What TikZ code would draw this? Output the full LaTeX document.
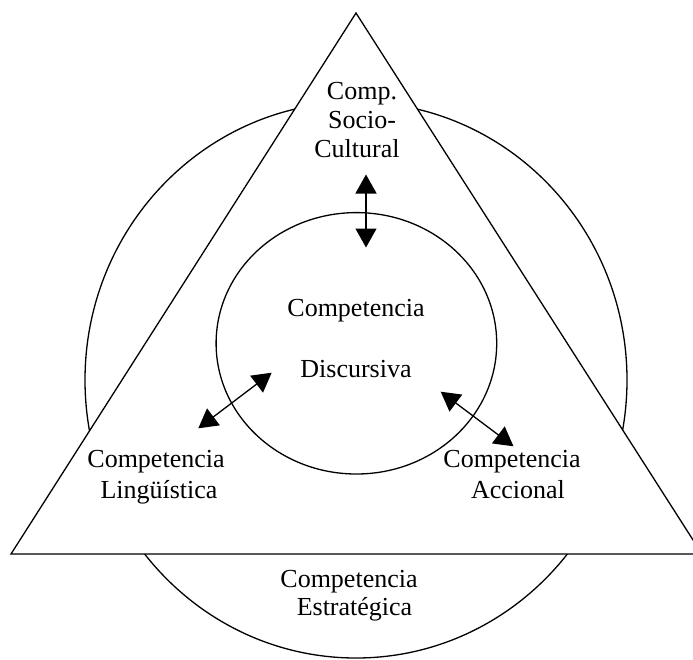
\documentclass[tikz,border=0pt]{standalone}
\usepackage{fontspec}
\setmainfont{Liberation Serif}
\usetikzlibrary{arrows.meta}
\begin{document}
\begin{tikzpicture}[x=1pt,y=-1pt,
  outline/.style={draw=black,line width=1.3pt},
  label/.style={anchor=base,inner sep=0pt,font=\fontsize{26}{30}\selectfont},
  link/.style={line width=1.3pt,{Triangle[length=19pt,width=21pt]}-{Triangle[length=19pt,width=21pt]}}]
  \useasboundingbox (0,0) rectangle (693,659);

  % outer ellipse (strategic competence)
  \draw[outline] (356,380) ellipse [x radius=271, y radius=278];
  % triangle, filled white so it hides the ellipse behind it
  \draw[outline,fill=white,line join=miter] (356,13) -- (702,554) -- (11,554) -- cycle;
  % inner ellipse (discourse competence)
  \draw[outline] (356.4,343.3) ellipse [x radius=140.3, y radius=130.7];

  % labels
  \node[label] (soc1) at (362,99) {Comp.};
  \node[label] (soc2) at (362,128) {Socio-};
  \node[label] (soc3) at (357,157) {Cultural};
  \node[label] (disc1) at (356,316.7) {Competencia};
  \node[label] (disc2) at (356,377.7) {Discursiva};
  \node[label] (ling1) at (156,467.5) {Competencia};
  \node[label] (ling2) at (159,498) {Lingüística};
  \node[label] (acc1) at (512,467.5) {Competencia};
  \node[label] (acc2) at (518,498) {Accional};
  \node[label] (est1) at (349,587) {Competencia};
  \node[label] (est2) at (354.5,615) {Estratégica};

  % arrow ends
  \coordinate (socA) at (366,174.5);
  \coordinate (socB) at (366,247.5);
  \coordinate (lingA) at (271.7,372.7);
  \coordinate (lingB) at (198.3,428.3);
  \coordinate (accA) at (440.7,391.7);
  \coordinate (accB) at (513.5,446.3);

  \draw[link] (socA) -- (socB);
  \draw[link] (lingA) -- (lingB);
  \draw[link] (accA) -- (accB);
\end{tikzpicture}
\end{document}
